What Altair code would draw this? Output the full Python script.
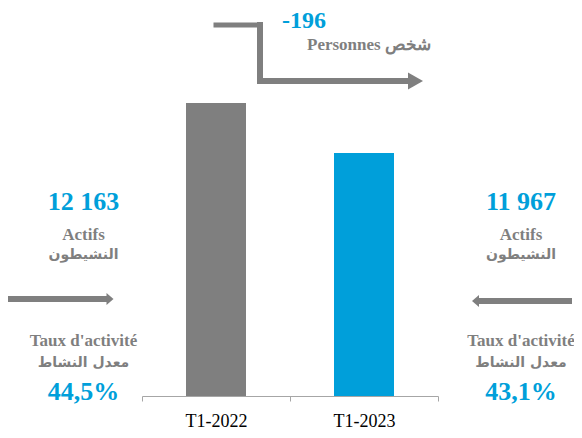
import altair as alt
import pandas as pd

# ---- data ----
periods = ["T1-2022", "T1-2023"]
actifs = [12163, 11967]
taux = ["44,5%", "43,1%"]
label_actifs_fr = "Actifs"
label_actifs_ar = "النشيطون"
label_taux_fr = "Taux d'activité"
label_taux_ar = "معدل النشاط"
label_diff = "Personnes شخص"

diff = actifs[1] - actifs[0]

def fmt(n):
    return f"{n:,}".replace(",", " ")

GRAY = "#7F7F7F"
BLUE = "#009FDA"
bar_colors = [GRAY, BLUE]
SERIF = "'Liberation Serif', 'Times New Roman', serif"
ARAB = "'DejaVu Sans', sans-serif"

ymin, ymax = 11015, 12426

df = pd.DataFrame({"period": periods, "actifs": actifs})
one = pd.DataFrame({"k": [0]})

bars = alt.Chart(df).mark_bar(size=60).encode(
    x=alt.X("period:N", sort=periods, title=None,
            scale=alt.Scale(paddingInner=0, paddingOuter=0),
            axis=alt.Axis(labelAngle=0, tickBand="extent", domainColor="#A6A6A6",
                          tickColor="#A6A6A6", tickSize=5, labelFont="Liberation Serif",
                          labelFontSize=18, labelColor="#000000", labelPadding=11)),
    y=alt.Y("actifs:Q", scale=alt.Scale(domain=[ymin, ymax], zero=False, nice=False), axis=None),
    y2=alt.Y2(datum=ymin),
    color=alt.Color("period:N", scale=alt.Scale(domain=periods, range=bar_colors), legend=None),
)

def txt(s, x, y, size, color, bold=True, font=SERIF, baseline="alphabetic", align="center"):
    return alt.Chart(one).mark_text(
        fontSize=size, color=color, fontWeight="bold" if bold else "normal",
        font=font, baseline=baseline, align=align,
    ).encode(x=alt.value(x), y=alt.value(y), text=alt.value(s))

def seg(x1, x2, y1, y2, w=6, cap="square"):
    return alt.Chart(one).mark_rule(strokeWidth=w, color=GRAY, strokeCap=cap).encode(
        x=alt.value(x1), x2=alt.value(x2), y=alt.value(y1), y2=alt.value(y2))

def head(x, y, path, size):
    return alt.Chart(one).mark_point(shape=path, filled=True, size=size, color=GRAY,
                                     opacity=1, strokeWidth=0).encode(
        x=alt.value(x), y=alt.value(y))

layers = [bars]

# top arrow
layers += [
    seg(74, 118, -11, -11, w=5),
    seg(118, 118, -11, 45),
    seg(118, 266, 45, 45),
    head(273.5, 45, "M-1,-1.13L1,0L-1,1.13Z", 225),
    txt(fmt(diff), 162, -8, 24, BLUE),
    txt(label_diff, 165, 14, 17, GRAY, align="left"),
]

# side arrows
layers += [
    seg(-135, -35, 263, 263, cap="butt"),
    head(-32, 263, "M-1,-1.7L1,0L-1,1.7Z", 49),
    seg(337, 430, 265, 265, cap="butt"),
    head(333.5, 265, "M1,-1.7L-1,0L1,1.7Z", 49),
]

for cx, i in [(-58.5, 0), (379, 1)]:
    layers += [
        txt(fmt(actifs[i]), cx, 174, 26, BLUE),
        txt(label_actifs_fr, cx, 204, 17, GRAY),
        txt(label_actifs_ar, cx, 219, 14, GRAY, font=ARAB, baseline="middle"),
        txt(label_taux_fr, cx, 310, 17, GRAY),
        txt(label_taux_ar, cx, 327, 14, GRAY, font=ARAB, baseline="middle"),
        txt(taux[i], cx, 364, 26, BLUE),
    ]

chart = alt.layer(*layers).properties(
    width=296, height=360,
    autosize=alt.AutoSizeParams(type="none"),
    padding={"left": 134, "top": 28, "right": 136, "bottom": 42},
).configure_view(strokeWidth=0)

chart.save("out.html", embed_options={"renderer": "svg", "actions": False})
